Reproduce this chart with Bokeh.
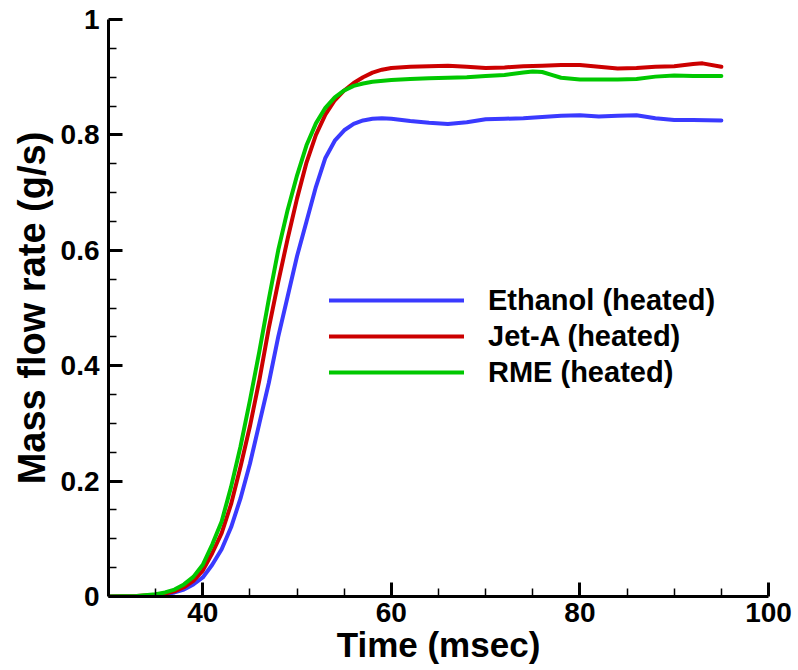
from bokeh.plotting import figure
from bokeh.models import FixedTicker, NumeralTickFormatter, Legend, LegendItem, Range1d
from bokeh.embed import file_html
from bokeh.resources import INLINE

# Ethanol (heated)
t_eth = [30, 32, 34, 35, 36, 37, 38, 39, 40, 41, 42, 43, 44, 45, 46, 47, 48, 49, 50,
         51, 52, 53, 54, 55, 56, 57, 58, 59, 60, 62, 64, 66, 68, 70, 72, 74, 76, 78,
         80, 82, 84, 86, 88, 90, 92, 95]
v_eth = [0, 0, 0.001, 0.002, 0.004, 0.007, 0.012, 0.021, 0.033, 0.055, 0.082, 0.12,
         0.17, 0.23, 0.30, 0.37, 0.45, 0.52, 0.59, 0.65, 0.71, 0.76, 0.79, 0.808,
         0.819, 0.825, 0.828, 0.829, 0.828, 0.824, 0.821, 0.819, 0.822, 0.827, 0.828,
         0.829, 0.831, 0.833, 0.834, 0.832, 0.833, 0.834, 0.829, 0.826, 0.826, 0.825]

# Jet-A (heated)
t_jet = [30, 33, 35, 36, 37, 38, 39, 40, 41, 42, 43, 44, 45, 46, 47, 48, 49, 50, 51,
         52, 53, 54, 55, 56, 57, 58, 59, 60, 62, 64, 66, 68, 70, 72, 74, 76, 78, 80,
         82, 84, 86, 88, 90, 92, 93, 95]
v_jet = [0, 0.001, 0.003, 0.005, 0.009, 0.016, 0.027, 0.045, 0.075, 0.11, 0.16, 0.225,
         0.295, 0.375, 0.465, 0.545, 0.62, 0.69, 0.752, 0.80, 0.835, 0.86, 0.877,
         0.89, 0.9, 0.908, 0.913, 0.916, 0.918, 0.919, 0.920, 0.918, 0.916, 0.917,
         0.919, 0.920, 0.921, 0.921, 0.918, 0.915, 0.916, 0.918, 0.919, 0.923, 0.924,
         0.918]

# RME (heated)
t_rme = [30, 33, 35, 36, 37, 38, 39, 40, 41, 42, 43, 44, 45, 46, 47, 48, 49, 50, 51,
         52, 53, 54, 55, 56, 57, 58, 60, 62, 64, 66, 68, 70, 72, 74, 75, 76, 77, 78,
         80, 82, 84, 86, 88, 90, 92, 95]
v_rme = [0, 0.001, 0.004, 0.007, 0.012, 0.021, 0.034, 0.055, 0.09, 0.13, 0.19, 0.26,
         0.34, 0.425, 0.515, 0.6, 0.67, 0.73, 0.782, 0.82, 0.847, 0.865, 0.877, 0.885,
         0.889, 0.892, 0.895, 0.897, 0.898, 0.899, 0.9, 0.902, 0.904, 0.908, 0.910,
         0.909, 0.904, 0.899, 0.896, 0.896, 0.896, 0.897, 0.901, 0.903, 0.902, 0.902]

series_labels = ["Ethanol (heated)", "Jet-A (heated)", "RME (heated)"]
series_colors = ["#3a3aff", "#cc0000", "#00c800"]

x_major = [40, 60, 80, 100]
x_minor = [35, 45, 50, 55, 65, 70, 75, 85, 90, 95]
y_major = [0, 0.2, 0.4, 0.6, 0.8, 1]
y_minor = [0.05, 0.1, 0.15, 0.25, 0.3, 0.35, 0.45, 0.5, 0.55, 0.65, 0.7, 0.75,
           0.85, 0.9, 0.95]

FONT = "Liberation Sans"

p = figure(width=798, height=670, output_backend="svg", toolbar_location=None,
           x_range=Range1d(30, 100), y_range=Range1d(0, 1),
           min_border_left=108, min_border_right=30, min_border_top=19,
           min_border_bottom=74)
p.outline_line_color = None
p.xgrid.visible = False
p.ygrid.visible = False

renderers = []
for t, v, c in zip([t_eth, t_jet, t_rme], [v_eth, v_jet, v_rme], series_colors):
    r = p.line(t, v, line_color=c, line_width=4, line_join="round", line_cap="round")
    renderers.append(r)

for ax in (p.xaxis[0], p.yaxis[0]):
    ax.axis_line_width = 3
    ax.axis_line_color = "black"
    ax.major_tick_in = 14
    ax.major_tick_out = 0
    ax.minor_tick_in = 8
    ax.minor_tick_out = 0
    ax.major_tick_line_width = 3
    ax.minor_tick_line_width = 1.5
    ax.major_tick_line_color = "black"
    ax.minor_tick_line_color = "black"
    ax.major_label_text_font = FONT
    ax.major_label_text_font_style = "bold"
    ax.major_label_text_font_size = "28px"
    ax.major_label_text_color = "black"
    ax.axis_label_text_font = FONT
    ax.axis_label_text_font_style = "bold"
    ax.axis_label_text_color = "black"

p.xaxis[0].ticker = FixedTicker(ticks=x_major, minor_ticks=x_minor)
p.yaxis[0].ticker = FixedTicker(ticks=y_major, minor_ticks=y_minor)
p.yaxis[0].formatter = NumeralTickFormatter(format="0.[0]")
p.xaxis[0].formatter = NumeralTickFormatter(format="0")

p.xaxis[0].axis_label = "Time (msec)"
p.xaxis[0].axis_label_text_font_size = "35px"
p.xaxis[0].axis_label_standoff = 0
p.xaxis[0].major_label_standoff = 6

p.yaxis[0].axis_label = "Mass flow rate (g/s)"
p.yaxis[0].axis_label_text_font_size = "38px"
p.yaxis[0].axis_label_standoff = 5
p.yaxis[0].major_label_standoff = 9

legend = Legend(
    items=[LegendItem(label=lab, renderers=[r]) for lab, r in zip(series_labels, renderers)],
    location=(221, 206), glyph_width=135, glyph_height=36, label_height=36,
    label_standoff=24, spacing=0, padding=0, margin=0,
    border_line_color=None, background_fill_alpha=0,
    label_text_font=FONT, label_text_font_style="bold", label_text_font_size="29px",
    label_text_color="black")
p.add_layout(legend)

open("out.html", "w").write(file_html(p, INLINE))
